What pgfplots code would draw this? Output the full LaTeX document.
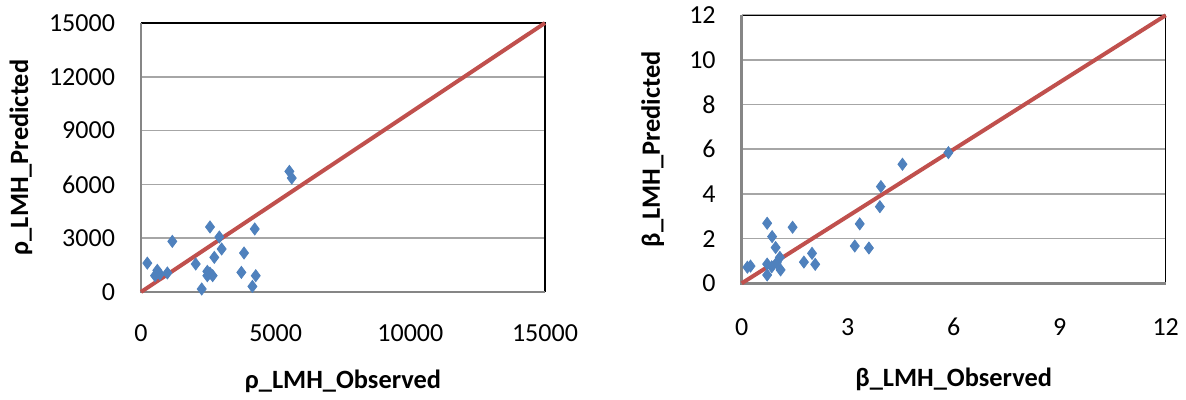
\documentclass[border=0pt]{standalone}
\usepackage{pgfplots}
\pgfplotsset{compat=1.18}
\usepackage{fontspec}
\setmainfont{Carlito}
\definecolor{mblue}{HTML}{4F81BD}
\definecolor{lred}{HTML}{C0504D}
\definecolor{gridg}{HTML}{A6A6A6}
\definecolor{axg}{HTML}{868686}
\pgfplotsset{
  myax/.style={
    scale only axis,
    scaled ticks=false,
    axis line style={draw=none},
    major tick length=0pt,
    ymajorgrids,
    grid style={gridg, line width=0.8pt},
    /pgf/number format/assume math mode=true,
    /pgf/number format/1000 sep={},
    tick label style={font=\fontsize{13}{15}\selectfont},
    label style={font=\bfseries\fontsize{13.2}{15}\selectfont},
    clip=false,
  }
}
\begin{document}
\begin{tikzpicture}[x=1pt,y=1pt]
\path (0,0) rectangle (593,200);
% left
\begin{axis}[myax,
  anchor=south west, at={(70.5pt,54pt)},
  width=202pt, height=134.5pt,
  xmin=0, xmax=15000, ymin=0, ymax=15000,
  xtick={0,5000,10000,15000}, ytick={0,3000,6000,9000,12000,15000},
  xticklabel style={yshift=-13pt},
  yticklabel style={xshift=-9.5pt},
  xlabel={ρ\_LMH\_Observed}, ylabel={ρ\_LMH\_Predicted},
  xlabel style={at={(axis description cs:0.5,0)}, anchor=center, yshift=-44.5pt},
  ylabel style={at={(axis description cs:0,0.5)}, anchor=center, xshift=0pt, yshift=60pt},
]
\draw[black, line width=0.7pt] (rel axis cs:0,1) -- (rel axis cs:1,1) -- (rel axis cs:1,0);
\draw[axg, line width=1.3pt] (rel axis cs:0,1) -- (rel axis cs:0,0) -- (rel axis cs:1,0);
\addplot[lred, line width=2pt] coordinates {(0,0) (15000,15000)};
\addplot[only marks, mark=diamond*, mark size=3pt, color=mblue] coordinates {
(234,1610) (605,1205) (520,910) (700,1000) (979,1060) (1163,2823) (2031,1561) (2254,167)
(2462,1149) (2462,909) (2560,1050) (2660,909) (2562,3625) (2722,1930) (2908,3067) (2995,2398)
(3727,1093) (3826,2175) (4223,3514) (4260,909) (4136,312) (5508,6726) (5597,6356)
};
\end{axis}
% right
\begin{axis}[myax,
  anchor=south west, at={(370.85pt,58.35pt)},
  width=212pt, height=134pt,
  xmin=0, xmax=12, ymin=0, ymax=12,
  xtick={0,3,6,9,12}, ytick={0,2,4,6,8,10,12},
  xticklabel style={yshift=-14pt},
  yticklabel style={xshift=-9.5pt},
  xlabel={β\_LMH\_Observed}, ylabel={β\_LMH\_Predicted},
  xlabel style={at={(axis description cs:0.5,0)}, anchor=center, yshift=-48pt},
  ylabel style={at={(axis description cs:0,0.5)}, anchor=center, yshift=44.5pt},
]
\draw[black, line width=0.7pt] (rel axis cs:0,1) -- (rel axis cs:1,1) -- (rel axis cs:1,0);
\draw[axg, line width=1.3pt] (rel axis cs:0,1) -- (rel axis cs:0,0) -- (rel axis cs:1,0);
\addplot[lred, line width=2pt] coordinates {(0,0) (12,12)};
\addplot[only marks, mark=diamond*, mark size=3pt, color=mblue] coordinates {
(0.16,0.72) (0.25,0.77) (0.72,2.69) (0.86,2.09) (0.96,1.60) (0.72,0.86) (0.72,0.37)
(0.85,0.74) (0.99,0.92) (1.08,1.16) (1.10,0.60) (1.44,2.51) (1.76,0.95) (1.99,1.34)
(2.08,0.85) (3.20,1.67) (3.34,2.66) (3.60,1.58) (3.91,3.43) (3.94,4.33) (4.55,5.33) (5.85,5.85)
};
\end{axis}
\end{tikzpicture}
\end{document}
